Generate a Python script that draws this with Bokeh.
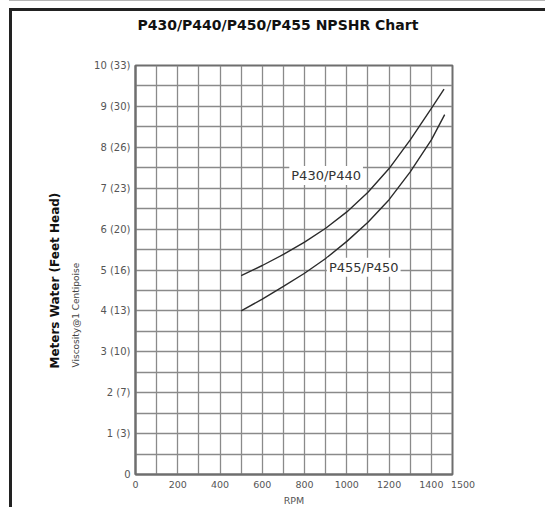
from bokeh.plotting import figure
from bokeh.models import Range1d, FixedTicker, Label, Title
from bokeh.embed import file_html
from bokeh.resources import INLINE

# ---- data ----
title_text = "P430/P440/P450/P455 NPSHR Chart"
x_label = "RPM"
y_label = "Meters Water (Feet Head)"
y_sublabel = "Viscosity@1 Centipoise"

x_ticks = [0, 200, 400, 600, 800, 1000, 1200, 1400, 1500]
x_tick_labels = ["0", "200", "400", "600", "800", "1000", "1200", "1400", "1500"]
y_ticks = [0, 1, 2, 3, 4, 5, 6, 7, 8, 9, 10]
y_tick_labels = ["0", "1 (3)", "2 (7)", "3 (10)", "4 (13)", "5 (16)",
                 "6 (20)", "7 (23)", "8 (26)", "9 (30)", "10 (33)"]
x_grid = [100, 200, 300, 400, 500, 600, 700, 800, 900, 1000, 1100, 1200, 1300, 1400]
y_grid = [0.5, 1, 1.5, 2, 2.5, 3, 3.5, 4, 4.5, 5, 5.5, 6, 6.5, 7, 7.5, 8, 8.5, 9, 9.5]

series_names = ["P430/P440", "P455/P450"]
rpm_a = [500, 600, 700, 800, 900, 1000, 1100, 1200, 1300, 1400, 1460]
head_a = [4.86, 5.11, 5.38, 5.68, 6.02, 6.42, 6.90, 7.48, 8.18, 8.95, 9.42]
rpm_b = [500, 600, 700, 800, 900, 1000, 1100, 1200, 1300, 1400, 1463]
head_b = [4.00, 4.29, 4.60, 4.92, 5.28, 5.70, 6.17, 6.72, 7.40, 8.18, 8.80]

FONT = "DejaVu Sans"

p = figure(width=536, height=499, x_range=Range1d(0, 1500), y_range=Range1d(0, 10),
           output_backend="svg", toolbar_location=None,
           min_border_left=123, min_border_right=96, min_border_top=54, min_border_bottom=36)
p.styles = {"margin-left": "9px", "margin-top": "8px",
            "border-top": "3px solid #222222", "border-left": "3px solid #222222",
            "box-shadow": "0 -7px 0 0 #ffffff, 0 -8px 0 0 #b5b5b5"}
p.background_fill_color = "white"
p.border_fill_color = "white"
p.outline_line_color = "#6e6e6e"
p.outline_line_width = 2

# title
p.title.text = title_text
p.title.align = "left"
p.title.offset = 2
p.title.standoff = 0
p.title.padding = dict(left=0, right=0, top=0, bottom=33)
p.title.text_font = FONT
p.title.text_font_style = "bold"
p.title.text_font_size = "14px"
p.title.text_color = "#111111"

# grid
p.xgrid.ticker = FixedTicker(ticks=x_grid)
p.ygrid.ticker = FixedTicker(ticks=y_grid)
for g in (p.xgrid, p.ygrid):
    g.grid_line_color = "#8a8a8a"
    g.grid_line_width = 1.3

# axes
p.xaxis.ticker = FixedTicker(ticks=x_ticks)
p.yaxis.ticker = FixedTicker(ticks=y_ticks)
xl = dict(zip(x_ticks, x_tick_labels))
xl[1500] = "\u00a0" * 7 + xl[1500]   # last label sits just right of the frame edge
p.xaxis.major_label_overrides = xl
p.yaxis.major_label_overrides = {t: s for t, s in zip(y_ticks, y_tick_labels)}
for ax in (p.xaxis, p.yaxis):
    ax.axis_line_color = "#6e6e6e"
    ax.axis_line_width = 2
    ax.major_tick_in = 0
    ax.major_tick_out = 0
    ax.minor_tick_line_color = None
    ax.major_label_text_font = FONT
    ax.major_label_text_color = "#555555"
    ax.major_label_standoff = 5
p.yaxis.major_label_text_font_size = "10px"
p.xaxis.major_label_text_font_size = "9.5px"
p.xaxis.major_label_standoff = 4

# curves
p.line(rpm_a, head_a, line_color="#2b2b2b", line_width=1.4)
p.line(rpm_b, head_b, line_color="#2b2b2b", line_width=1.4)

# curve labels
for name, (lx, ly) in zip(series_names, [(902, 7.31), (1080, 5.07)]):
    p.add_layout(Label(x=lx, y=ly, text=name, text_align="center", text_baseline="middle",
                       text_font=FONT, text_font_size="13px", text_color="#333333",
                       background_fill_color="white", padding=2))

# axis titles
p.add_layout(Title(text=x_label, align="center", standoff=0, text_font=FONT,
                   text_font_style="normal", text_font_size="9.5px", text_color="#555555"), "below")
p.add_layout(Title(text=y_sublabel, align="left", offset=107, standoff=22, text_font=FONT,
                   text_font_style="normal", text_font_size="9px", text_color="#444444"), "left")
p.add_layout(Title(text=y_label, align="left", offset=106, standoff=-8, text_font=FONT,
                   text_font_style="bold", text_font_size="12px", text_color="#111111"), "left")

open("out.html", "w").write(file_html(p, INLINE))
